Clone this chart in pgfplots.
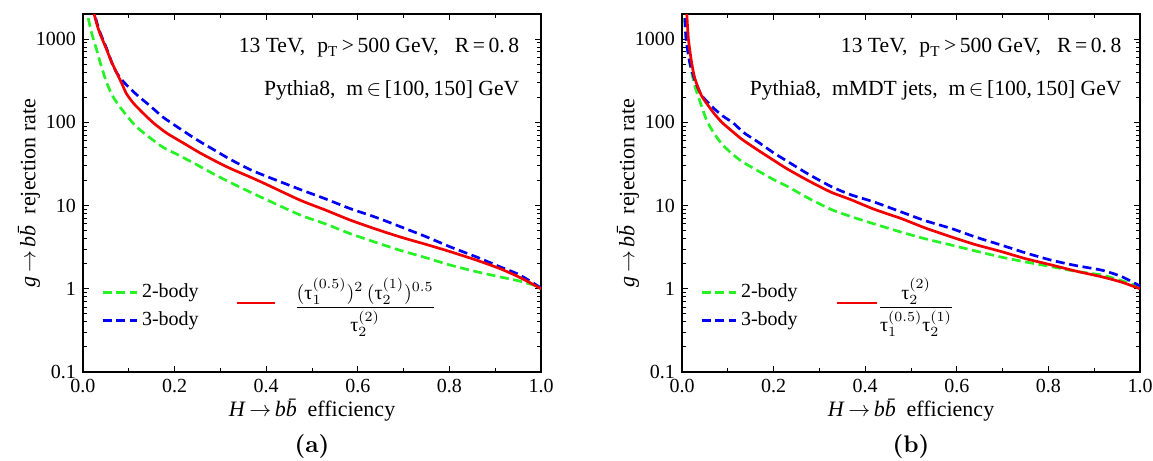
\documentclass[border=0pt]{standalone}
\usepackage{fontspec}
\usepackage{pgfplots}
\pgfplotsset{compat=1.18}
\newfontfamily\tms{Liberation Serif}
\newcommand{\tu}{\mbox{\tms τ}}
\definecolor{cg}{rgb}{0.15,0.95,0.15}
\definecolor{cb}{rgb}{0,0,0.95}
\definecolor{cr}{rgb}{0.95,0,0}
\tikzset{
  gline/.style={cg, line width=1.35pt, dash pattern=on 4.5pt off 2.3pt},
  bline/.style={cb, line width=1.35pt, dash pattern=on 4.5pt off 2.3pt},
  rline/.style={cr, line width=1.35pt},
}
\pgfplotsset{
  every axis/.append style={
    scale only axis, width=229pt, height=179pt,
    xmin=0, xmax=1, ymin=0.1, ymax=2000,
    xtick={0,0.2,0.4,0.6,0.8,1}, xticklabels={0.0,0.2,0.4,0.6,0.8,1.0},
    minor xtick={0.1,0.3,0.5,0.7,0.9},
    ytick={0.1,1,10,100,1000}, yticklabels={0.1,1,10,100,1000},
    minor ytick={0.2,0.3,0.4,0.5,0.6,0.7,0.8,0.9,2,3,4,5,6,7,8,9,20,30,40,50,60,70,80,90,200,300,400,500,600,700,800,900},
    tick align=inside, major tick length=3pt, minor tick length=1.8pt,
    /pgf/number format/assume math mode=true,
    tick label style={font=\tms},
    label style={font=\tms\fontsize{11}{13}\selectfont},
    axis line style={line width=0.8pt},
    every tick/.style={black, line width=0.5pt},
    xlabel style={at={(axis description cs:0.5,-0.106)}, anchor=center},
    ylabel style={at={(axis description cs:-0.118,0.5)}, anchor=center},
    legend style={draw=none, fill=none, font=\tms, at={(axis description cs:0.026,0.183)}, anchor=west, row sep=1.5pt},
    legend cell align=left,
  },
}
\begin{document}
\begin{tikzpicture}
\path[use as bounding box] (-41.5pt,-44.5pt) rectangle (535pt,186pt);
% ---------------- panel (a)
\begin{semilogyaxis}[name=A, at={(0pt,0pt)}, anchor=south west,
  xlabel={\textit{H}$\,\rightarrow\,$\textit{b\=b} efficiency},
  ylabel={\textit{g}$\,\rightarrow\,$\textit{b\=b} rejection rate},
  legend image code/.code={\draw[#1] (0pt,0pt) -- (10pt,0pt); \path (0pt,0pt) -- (17pt,0pt);}]
\addplot[gline, smooth, tension=0.4] coordinates {
(0.008,2600) (0.011,1840) (0.02,1120) (0.030,738) (0.040,470) (0.052,296) (0.065,205) (0.081,152)
(0.10,112) (0.117,88) (0.145,66) (0.175,50) (0.21,40) (0.248,31) (0.285,24) (0.321,19) (0.365,14.5)
(0.40,11.8) (0.474,7.7) (0.53,6) (0.583,4.6) (0.64,3.6) (0.692,2.9) (0.75,2.35) (0.801,1.93)
(0.86,1.6) (0.91,1.39) (0.95,1.25) (0.99,1.08) (1.0,1.0)};
\addlegendentry{2-body}
\addplot[bline, smooth, tension=0.4] coordinates {
(0.022,2600) (0.027,1840) (0.036,1250) (0.052,760) (0.063,520) (0.074,390) (0.09,300) (0.117,215)
(0.145,160) (0.175,115) (0.21,85) (0.248,62) (0.285,47) (0.321,36) (0.365,27) (0.40,22.5)
(0.474,15.6) (0.53,12) (0.583,9.2) (0.64,7.2) (0.692,5.6) (0.75,4.2) (0.801,3.2) (0.86,2.4)
(0.91,1.84) (0.95,1.5) (0.98,1.2) (1.0,1.02)};
\addlegendentry{3-body}
\addplot[rline, smooth, tension=0.4] coordinates {
(0.020,2600) (0.026,1840) (0.035,1250) (0.052,738) (0.063,520) (0.074,390) (0.085,290) (0.095,220)
(0.11,170) (0.131,129) (0.155,97) (0.183,74) (0.22,56) (0.255,43) (0.29,34) (0.321,28) (0.365,22)
(0.40,18) (0.474,11.6) (0.53,8.8) (0.583,6.7) (0.64,5.2) (0.692,4.2) (0.75,3.4) (0.801,2.8)
(0.86,2.2) (0.91,1.75) (0.95,1.4) (0.98,1.15) (1.0,1.0)};
\draw[rline] (axis description cs:0.336,0.193) -- (axis description cs:0.419,0.193);
\node[font=\tms] at (axis description cs:0.616,0.18)
  {$\displaystyle\frac{(\tu_1^{(0.5)})^2\,(\tu_2^{(1)})^{0.5}}{\tu_2^{(2)}}$};
\node[font=\tms\fontsize{10.8}{13}\selectfont, anchor=east] at (axis description cs:0.968,0.905)
  {13 TeV,\hspace{6pt}p\textsubscript{T}\,>\,500 GeV,\hspace{8pt}R\,=\,0.\,8};
\node[font=\tms\fontsize{10.8}{13}\selectfont, anchor=east] at (axis description cs:0.968,0.787)
  {Pythia8, \ m\,$\in$\,[100,\,150] GeV};
\end{semilogyaxis}
\node[font=\bfseries, scale=1.2] at ([yshift=-37pt]A.south) {(a)};
% ---------------- panel (b)
\begin{semilogyaxis}[name=B, at={(299.5pt,0pt)}, anchor=south west,
  xlabel={\textit{H}$\,\rightarrow\,$\textit{b\=b} efficiency},
  ylabel={\textit{g}$\,\rightarrow\,$\textit{b\=b} rejection rate},
  legend image code/.code={\draw[#1] (0pt,0pt) -- (10pt,0pt); \path (0pt,0pt) -- (17pt,0pt);}]
\addplot[gline, smooth, tension=0.4] coordinates {
(0.004,2600) (0.0066,1500) (0.01,1000) (0.017,520) (0.028,273) (0.043,155) (0.054,105) (0.069,75)
(0.087,55) (0.105,44) (0.13,34) (0.164,26.5) (0.20,20.5) (0.23,17) (0.273,12.5) (0.325,9.0)
(0.368,7.4) (0.42,6) (0.478,4.8) (0.53,4.0) (0.588,3.35) (0.64,2.85) (0.697,2.4) (0.75,2.1)
(0.807,1.84) (0.86,1.62) (0.917,1.46) (0.96,1.25) (1.0,1.05)};
\addlegendentry{2-body}
\addplot[bline, smooth, tension=0.4] coordinates {
(0.005,2600) (0.0088,1000) (0.017,520) (0.028,320) (0.043,210) (0.069,148) (0.09,118) (0.112,98)
(0.135,75) (0.164,59) (0.20,43) (0.23,34) (0.275,24) (0.325,17) (0.368,13.5) (0.42,11) (0.478,8.4)
(0.53,6.6) (0.588,5.3) (0.64,4.2) (0.697,3.35) (0.75,2.7) (0.807,2.2) (0.86,1.9) (0.917,1.67)
(0.96,1.4) (1.0,1.08)};
\addlegendentry{3-body}
\addplot[rline, smooth, tension=0.4] coordinates {
(0.009,2600) (0.0105,2000) (0.014,1000) (0.021,520) (0.0285,330) (0.043,207) (0.069,130) (0.087,100)
(0.105,82) (0.13,63) (0.164,47) (0.20,35) (0.23,27.5) (0.275,20) (0.325,14.5) (0.368,11.8) (0.42,9.0)
(0.478,7) (0.53,5.4) (0.588,4.2) (0.64,3.4) (0.697,2.8) (0.75,2.3) (0.807,1.93) (0.86,1.63)
(0.917,1.39) (0.96,1.2) (1.0,1.0)};
\draw[rline] (axis description cs:0.338,0.193) -- (axis description cs:0.425,0.193);
\node[font=\tms] at (axis description cs:0.511,0.18)
  {$\displaystyle\frac{\tu_2^{(2)}}{\tu_1^{(0.5)}\tu_2^{(1)}}$};
\node[font=\tms\fontsize{10.8}{13}\selectfont, anchor=east] at (axis description cs:0.975,0.905)
  {13 TeV,\hspace{6pt}p\textsubscript{T}\,>\,500 GeV,\hspace{8pt}R\,=\,0.\,8};
\node[font=\tms\fontsize{10.8}{13}\selectfont, anchor=east] at (axis description cs:0.975,0.787)
  {Pythia8, \ mMDT jets, \ m\,$\in$\,[100,\,150] GeV};
\end{semilogyaxis}
\node[font=\bfseries, scale=1.2] at ([yshift=-37pt]B.south) {(b)};
\end{tikzpicture}
\end{document}
